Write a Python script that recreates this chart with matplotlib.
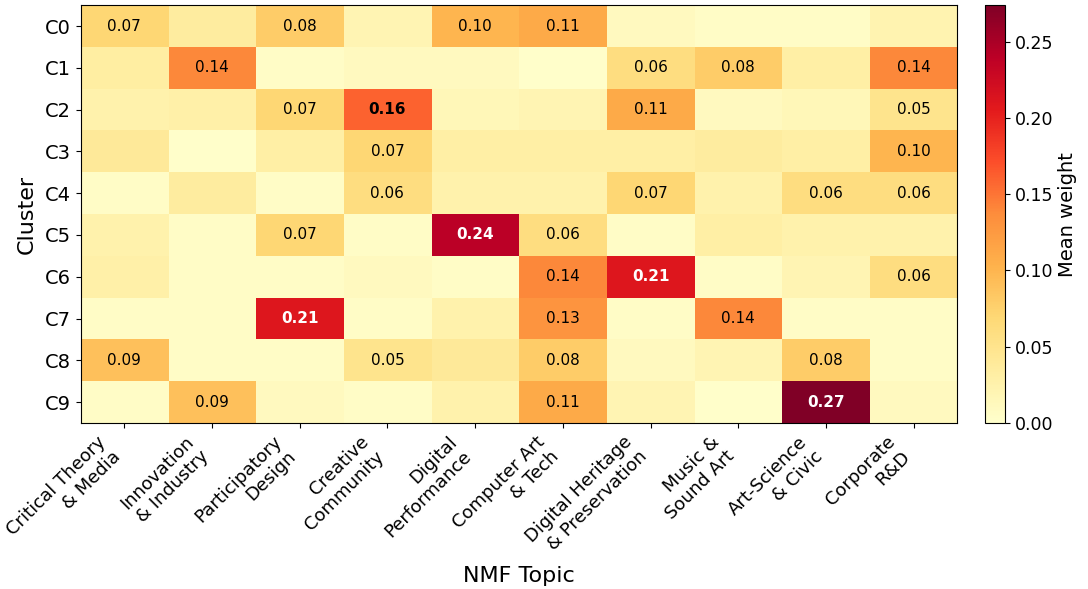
import numpy as np
import matplotlib
matplotlib.use("Agg")
import matplotlib.pyplot as plt

clusters = ["C0", "C1", "C2", "C3", "C4", "C5", "C6", "C7", "C8", "C9"]
topics = ["Critical Theory\n& Media", "Innovation\n& Industry", "Participatory\nDesign",
          "Creative\nCommunity", "Digital\nPerformance", "Computer Art\n& Tech",
          "Digital Heritage\n& Preservation", "Music &\nSound Art", "Art-Science\n& Civic",
          "Corporate\nR&D"]

c0 = [0.07, 0.035, 0.08, 0.020, 0.10, 0.11, 0.010, 0.005, 0.005, 0.022]
c1 = [0.033, 0.14, 0.005, 0.010, 0.010, 0.002, 0.06, 0.08, 0.030, 0.14]
c2 = [0.025, 0.028, 0.07, 0.16, 0.015, 0.020, 0.11, 0.010, 0.015, 0.05]
c3 = [0.040, 0.002, 0.030, 0.07, 0.030, 0.030, 0.030, 0.035, 0.030, 0.10]
c4 = [0.005, 0.035, 0.005, 0.06, 0.025, 0.025, 0.07, 0.025, 0.06, 0.06]
c5 = [0.025, 0.005, 0.07, 0.005, 0.24, 0.06, 0.005, 0.030, 0.025, 0.025]
c6 = [0.028, 0.005, 0.005, 0.010, 0.005, 0.14, 0.21, 0.005, 0.020, 0.06]
c7 = [0.005, 0.005, 0.21, 0.005, 0.025, 0.13, 0.005, 0.14, 0.005, 0.005]
c8 = [0.09, 0.005, 0.005, 0.05, 0.040, 0.08, 0.010, 0.020, 0.08, 0.005]
c9 = [0.005, 0.09, 0.010, 0.005, 0.025, 0.11, 0.020, 0.002, 0.274, 0.010]

data = np.array([c0, c1, c2, c3, c4, c5, c6, c7, c8, c9])

fig = plt.figure(figsize=(10.88, 5.89), dpi=100)
ax = fig.add_axes([0.074, 0.282, 0.806, 0.709])
cax = fig.add_axes([0.905, 0.282, 0.0184, 0.709])

im = ax.imshow(data, cmap="YlOrRd", vmin=0, vmax=data.max(), aspect="auto")
ax.set_xticks(range(len(topics)))
ax.set_xticklabels(topics, rotation=45, ha="right", fontsize=13)
ax.set_yticks(range(len(clusters)))
ax.set_yticklabels(clusters, fontsize=14)
ax.set_xlabel("NMF Topic", fontsize=16)
ax.set_ylabel("Cluster", fontsize=16, labelpad=6)

vmax = data.max()
for i in range(data.shape[0]):
    for j in range(data.shape[1]):
        v = data[i, j]
        if v >= 0.05:
            color = "white" if v > 0.6 * vmax else "black"
            weight = "bold" if v >= 0.15 else "normal"
            ax.text(j, i, f"{v:.2f}", ha="center", va="center", fontsize=11,
                    color=color, fontweight=weight)

cb = fig.colorbar(im, cax=cax)
cb.set_label("Mean weight", fontsize=14)
cb.ax.tick_params(labelsize=12.5)

fig.savefig("out.png", dpi=100)
